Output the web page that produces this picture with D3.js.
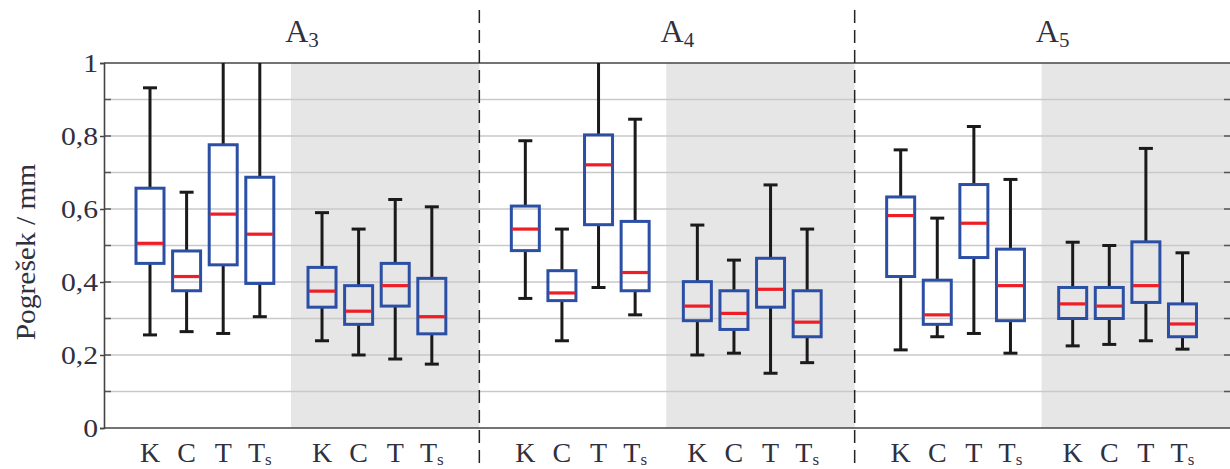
<!DOCTYPE html>
<html>
<head>
<meta charset="utf-8">
<script src="https://cdn.jsdelivr.net/npm/d3@7"></script>
<style>
  html, body { margin: 0; padding: 0; background: #fff; }
  svg { display: block; }
  svg text { font-family: "Liberation Serif", serif; fill: #30303f; }
</style>
</head>
<body>
<svg id="chart" width="1230" height="469"></svg>
<script>
// ---- data ----
const panels = ["A3", "A4", "A5"];
const panelSub = ["3", "4", "5"];
const groups = ["g1", "g2"];            // second group is shaded
const categories = ["K", "C", "T", "Ts"];
const yTicks = [0, 0.2, 0.4, 0.6, 0.8, 1];
const yTickLabels = ["0", "0,2", "0,4", "0,6", "0,8", "1"];
const yLabel = "Pogrešek / mm";

// order: panel A3 (g1: K C T Ts, g2: K C T Ts), A4 (...), A5 (...)
const whiskerLow = [
  0.255, 0.264, 0.259, 0.305,  0.239, 0.200, 0.189, 0.175,
  0.355, 0.239, 0.385, 0.310,  0.200, 0.205, 0.150, 0.179,
  0.214, 0.250, 0.259, 0.205,  0.225, 0.229, 0.239, 0.216
];
const q1 = [
  0.451, 0.376, 0.447, 0.396,  0.331, 0.284, 0.334, 0.258,
  0.486, 0.349, 0.557, 0.376,  0.294, 0.270, 0.331, 0.250,
  0.415, 0.284, 0.467, 0.294,  0.300, 0.300, 0.344, 0.250
];
const median = [
  0.506, 0.415, 0.586, 0.531,  0.375, 0.320, 0.390, 0.305,
  0.545, 0.370, 0.721, 0.426,  0.334, 0.314, 0.380, 0.290,
  0.582, 0.310, 0.561, 0.390,  0.340, 0.334, 0.390, 0.285
];
const q3 = [
  0.657, 0.485, 0.776, 0.687,  0.440, 0.390, 0.451, 0.410,
  0.608, 0.431, 0.803, 0.566,  0.401, 0.376, 0.465, 0.376,
  0.633, 0.405, 0.667, 0.490,  0.385, 0.385, 0.510, 0.340
];
const whiskerHigh = [
  0.932, 0.646, 1.10, 1.10,   0.590, 0.545, 0.626, 0.606,
  0.787, 0.545, 1.10, 0.846,  0.556, 0.460, 0.666, 0.545,
  0.762, 0.575, 0.826, 0.681, 0.509, 0.500, 0.766, 0.480
];

// ---- layout ----
const FONTSTYLE = "font-family: 'Liberation Serif', serif";
const svg = d3.select("#chart");
const mLeft = 104, mRight = 1230, mTop = 63, mBottom = 428;

const y = d3.scaleLinear().domain([0, 1]).range([mBottom, mTop]);
const xPanel = d3.scaleBand().domain(panels).range([mLeft, mRight]).padding(0);
const pw = xPanel.bandwidth();
// slot positions within a panel (symmetric around centre)
const slotPos = [1, 2, 3, 4, 5.7, 6.7, 7.7, 8.7];
const xIn = d3.scaleLinear().domain([0, 10]).range([9.4, 9.4 + 366]);

const records = [];
panels.forEach((p, pi) => groups.forEach((g, gi) => categories.forEach((c, ci) => {
  const i = pi * 8 + gi * 4 + ci;
  records.push({
    panel: p, group: g, cat: c,
    x: xPanel(p) + xIn(slotPos[gi * 4 + ci]),
    lo: whiskerLow[i], q1: q1[i], med: median[i], q3: q3[i], hi: whiskerHigh[i]
  });
})));

svg.append("defs").append("clipPath").attr("id", "plotclip")
  .append("rect").attr("x", mLeft).attr("y", mTop).attr("width", mRight - mLeft).attr("height", mBottom - mTop);

// shading of the second group in every panel
svg.selectAll("rect.shade").data(panels).join("rect")
  .attr("class", "shade")
  .attr("x", d => xPanel(d) + xIn(4.85))
  .attr("y", mTop)
  .attr("width", d => pw - xIn(4.85))
  .attr("height", mBottom - mTop)
  .attr("fill", "#e6e6e6");

// grid lines every 0.1
const gridVals = d3.range(1, 10).map(d => d / 10);
svg.selectAll("line.grid").data(gridVals).join("line")
  .attr("class", "grid")
  .attr("x1", mLeft).attr("x2", mRight)
  .attr("y1", d => y(d)).attr("y2", d => y(d))
  .attr("stroke", "#c9c9c9").attr("stroke-width", 1.6);

// inner ticks (left and right)
svg.selectAll("line.tickL").data(gridVals).join("line")
  .attr("class", "tickL")
  .attr("x1", mLeft).attr("x2", mLeft + 7)
  .attr("y1", d => y(d)).attr("y2", d => y(d))
  .attr("stroke", "#555").attr("stroke-width", 1.5);
svg.selectAll("line.tickR").data(gridVals).join("line")
  .attr("class", "tickR")
  .attr("x1", mRight - 6).attr("x2", mRight)
  .attr("y1", d => y(d)).attr("y2", d => y(d))
  .attr("stroke", "#555").attr("stroke-width", 1.5);

// left axis with labels via d3.axisLeft
const yAxis = d3.axisLeft(y).tickValues(yTicks)
  .tickFormat((d, i) => yTickLabels[i]).tickSize(4).tickPadding(3);
const ya = svg.append("g").attr("transform", `translate(${mLeft},0)`).call(yAxis);
ya.attr("font-family", null).attr("font-size", null);
ya.select(".domain").attr("stroke", "#444").attr("stroke-width", 1.6);
ya.selectAll(".tick line").attr("stroke", "#444").attr("stroke-width", 1.5);
const tickStretch = 1.14;
ya.selectAll(".tick text")
  .attr("style", FONTSTYLE)
  .attr("font-size", 26)
  .attr("x", -6 / tickStretch)
  .attr("transform", `scale(${tickStretch},1)`)
  .attr("fill", "#30303f").attr("dy", "0.34em");

// top/bottom borders
[mTop, mBottom].forEach(v => {
  svg.append("line").attr("x1", mLeft).attr("x2", mRight).attr("y1", v).attr("y2", v)
    .attr("stroke", "#444").attr("stroke-width", 1.6);
});

// boxes
const gBox = svg.append("g").attr("clip-path", "url(#plotclip)");
const boxW = 28, capW = 14;
const bx = gBox.selectAll("g.box").data(records).join("g").attr("class", "box");
bx.append("line") // upper whisker
  .attr("x1", d => d.x).attr("x2", d => d.x)
  .attr("y1", d => y(d.q3)).attr("y2", d => y(d.hi))
  .attr("stroke", "#1a1a1a").attr("stroke-width", 3);
bx.append("line") // lower whisker
  .attr("x1", d => d.x).attr("x2", d => d.x)
  .attr("y1", d => y(d.q1)).attr("y2", d => y(d.lo))
  .attr("stroke", "#1a1a1a").attr("stroke-width", 3);
bx.append("line") // upper cap
  .attr("x1", d => d.x - capW / 2).attr("x2", d => d.x + capW / 2)
  .attr("y1", d => y(d.hi)).attr("y2", d => y(d.hi))
  .attr("stroke", "#1a1a1a").attr("stroke-width", 3);
bx.append("line") // lower cap
  .attr("x1", d => d.x - capW / 2).attr("x2", d => d.x + capW / 2)
  .attr("y1", d => y(d.lo)).attr("y2", d => y(d.lo))
  .attr("stroke", "#1a1a1a").attr("stroke-width", 3);
bx.append("rect")
  .attr("x", d => d.x - boxW / 2).attr("width", boxW)
  .attr("y", d => y(d.q3)).attr("height", d => y(d.q1) - y(d.q3))
  .attr("fill", "none").attr("stroke", "#2b4fa5").attr("stroke-width", 3);
bx.append("line") // median
  .attr("x1", d => d.x - boxW / 2 + 1).attr("x2", d => d.x + boxW / 2 - 1)
  .attr("y1", d => y(d.med)).attr("y2", d => y(d.med))
  .attr("stroke", "#ee1d26").attr("stroke-width", 3.2);

// dashed separators between panels
svg.selectAll("line.sep").data(panels.slice(1)).join("line")
  .attr("class", "sep")
  .attr("x1", d => xPanel(d)).attr("x2", d => xPanel(d))
  .attr("y1", 10).attr("y2", 469)
  .attr("stroke", "#222").attr("stroke-width", 1.5)
  .attr("stroke-dasharray", "13,7");

// panel titles
const titles = svg.selectAll("text.title").data(panels).join("text")
  .attr("class", "title")
  .attr("style", FONTSTYLE)
  .attr("x", d => xPanel(d) + 198).attr("y", 42)
  .attr("text-anchor", "middle").attr("font-size", 32);
titles.append("tspan").text("A");
titles.append("tspan").attr("font-size", 21).attr("dy", 5).text((d, i) => panelSub[i]);

// category labels
const cl = svg.selectAll("text.cat").data(records).join("text")
  .attr("class", "cat")
  .attr("style", FONTSTYLE)
  .attr("x", d => d.x).attr("y", 462)
  .attr("text-anchor", "middle").attr("font-size", 28);
cl.append("tspan").text(d => d.cat[0]);
cl.filter(d => d.cat.length > 1).append("tspan")
  .attr("font-size", 17).attr("dy", 3).text(d => d.cat.slice(1));

// y label (stretched slightly along its length to match the reference)
svg.append("text")
  .attr("style", FONTSTYLE)
  .attr("transform", `translate(35, 252) rotate(-90) scale(1.09,1)`)
  .attr("text-anchor", "middle").attr("font-size", 27)
  .text(yLabel);
</script>
</body>
</html>
